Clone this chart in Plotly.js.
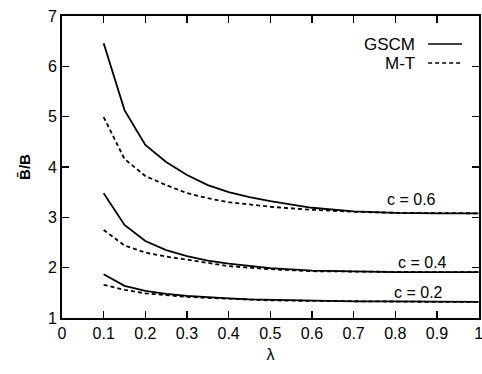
<!DOCTYPE html>
<html><head><meta charset="utf-8">
<script src="https://cdn.plot.ly/plotly-3.0.1.min.js"></script>
<style>html,body{margin:0;padding:0;background:#fff}#chart{width:482px;height:374px}</style>
</head><body><div id="chart"></div>
<script>
const lambda = [0.1,0.15,0.2,0.25,0.3,0.35,0.4,0.45,0.5,0.6,0.7,0.8,0.9,1.0];
const gscm06 = [6.46,5.13,4.44,4.10,3.84,3.64,3.50,3.40,3.32,3.19,3.12,3.09,3.08,3.08];
const mt06   = [4.99,4.16,3.82,3.64,3.48,3.38,3.30,3.25,3.21,3.15,3.11,3.09,3.08,3.08];
const gscm04 = [3.48,2.85,2.53,2.35,2.23,2.14,2.08,2.03,1.99,1.94,1.92,1.91,1.91,1.91];
const mt04   = [2.75,2.44,2.30,2.22,2.16,2.09,2.03,2.00,1.97,1.93,1.92,1.91,1.91,1.91];
const gscm02 = [1.87,1.64,1.54,1.48,1.44,1.41,1.39,1.37,1.36,1.34,1.33,1.33,1.32,1.32];
const mt02   = [1.66,1.56,1.49,1.45,1.42,1.40,1.38,1.37,1.35,1.34,1.33,1.33,1.32,1.32];
const xTicks = [0,0.1,0.2,0.3,0.4,0.5,0.6,0.7,0.8,0.9,1];
const xTickText = ["0","0.1","0.2","0.3","0.4","0.5","0.6","0.7","0.8","0.9","1"];
const curveLabels = ["c = 0.6","c = 0.4","c = 0.2"];
const labelX = [0.84,0.865,0.855];
const labelY = [3.36,2.11,1.50];
const legendNames = ["GSCM","M-T"];

const font = {family:"Liberation Sans, Arial, sans-serif", size:16, color:"#000"};
const solid = {color:"#000", width:1.8};
const dashed = {color:"#000", width:1.8, dash:"4px,3px"};
const traces = [
  {x:lambda, y:gscm06, mode:"lines", line:solid, name:legendNames[0]},
  {x:lambda, y:mt06, mode:"lines", line:dashed, name:legendNames[1]},
  {x:lambda, y:gscm04, mode:"lines", line:solid, name:legendNames[0]},
  {x:lambda, y:mt04, mode:"lines", line:dashed, name:legendNames[1]},
  {x:lambda, y:gscm02, mode:"lines", line:solid, name:legendNames[0]},
  {x:lambda, y:mt02, mode:"lines", line:dashed, name:legendNames[1]}
];
const annotations = curveLabels.map((t,i)=>({x:labelX[i], y:labelY[i], xref:"x", yref:"y", text:t, showarrow:false, font:{...font,size:16}}));
annotations.push({x:0.851, y:0.907, xref:"paper", yref:"paper", xanchor:"right", yanchor:"middle", text:legendNames[0], showarrow:false, font:{...font, size:17}});
annotations.push({x:0.851, y:0.844, xref:"paper", yref:"paper", xanchor:"right", yanchor:"middle", text:legendNames[1], showarrow:false, font:{...font, size:17}});
const shapes = [
  {type:"line", xref:"paper", yref:"paper", x0:0.878, x1:0.959, y0:0.907, y1:0.907, line:{color:"#000", width:1.5}},
  {type:"line", xref:"paper", yref:"paper", x0:0.878, x1:0.959, y0:0.844, y1:0.844, line:{color:"#000", width:1.5, dash:"4px,3px"}}
];
const axisCommon = {showgrid:false, zeroline:false, showline:true, linecolor:"#000", linewidth:2,
  ticks:"inside", ticklen:7, tickwidth:1.5, tickcolor:"#000", mirror:"ticks", tickfont:font};
const layout = {
  width:482, height:374, margin:{l:62, r:3, t:16, b:56},
  paper_bgcolor:"#fff", plot_bgcolor:"#fff", showlegend:false, font:font,
  xaxis:{...axisCommon, range:[0,1.001], tickmode:"array", tickvals:xTicks, ticktext:xTickText, ticklabeloverflow:"allow", title:{text:"λ", font:{...font,size:16}, standoff:8}},
  yaxis:{...axisCommon, range:[1,7], dtick:1, tick0:1, title:{text:"<b>B̄/B</b>", font:{...font,size:15}, standoff:14}},
  annotations:annotations, shapes:shapes
};
Plotly.newPlot("chart", traces, layout, {staticPlot:true});
</script></body></html>
